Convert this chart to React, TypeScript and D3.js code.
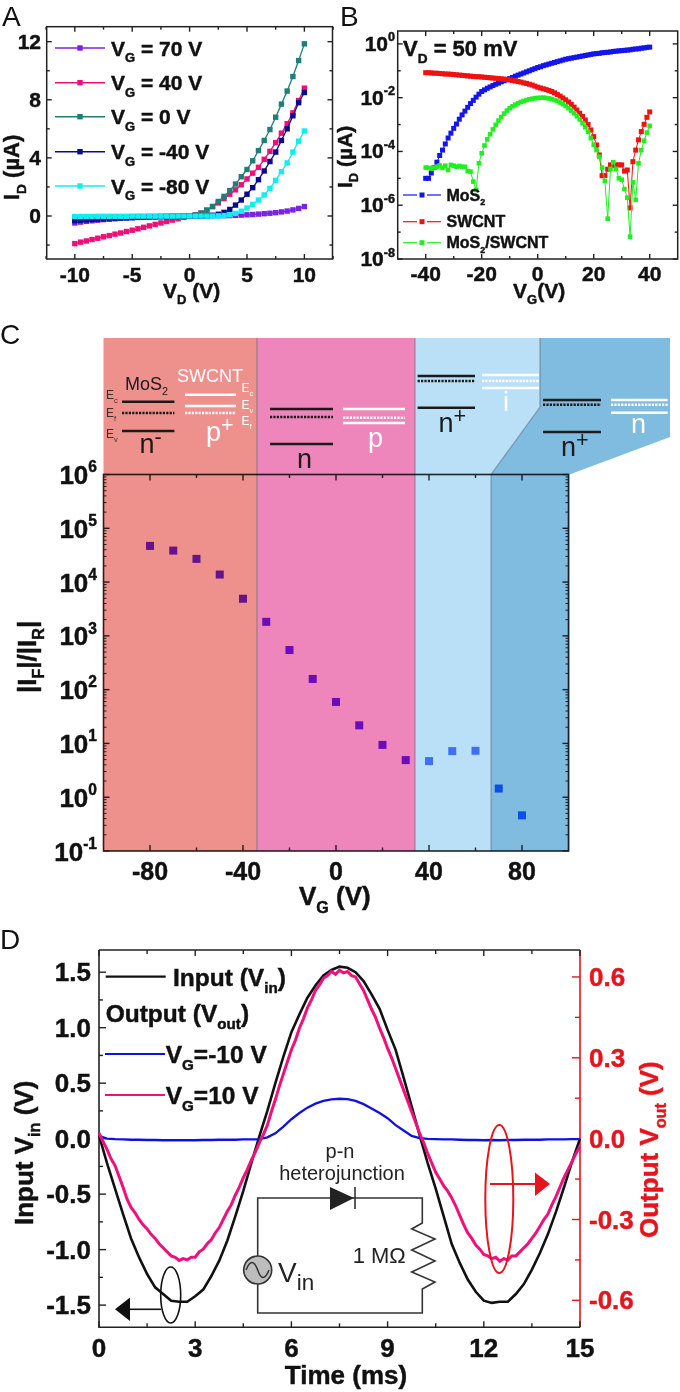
import React from "react";
import * as d3 from "d3";

const FONT = "'Liberation Sans', Arial, sans-serif";

// Panel A
const vdValues = [-10,-9.5,-9,-8.5,-8,-7.5,-7,-6.5,-6,-5.5,-5,-4.5,-4,-3.5,-3,-2.5,-2,-1.5,-1,-0.5,0,0.5,1,1.5,2,2.5,3,3.5,4,4.5,5,5.5,6,6.5,7,7.5,8,8.5,9,9.5,10];
const idVg70 = [-0.48,-0.42,-0.37,-0.33,-0.29,-0.25,-0.22,-0.19,-0.16,-0.14,-0.12,-0.1,-0.08,-0.06,-0.05,-0.04,-0.03,-0.02,-0.01,-0.01,0,0,0.01,0.01,0.01,0.02,0.02,0.03,0.04,0.06,0.08,0.1,0.13,0.16,0.19,0.23,0.28,0.34,0.42,0.52,0.65];
const idVg40 = [-1.9,-1.8,-1.72,-1.62,-1.53,-1.43,-1.35,-1.25,-1.17,-1.07,-0.98,-0.88,-0.78,-0.68,-0.58,-0.48,-0.38,-0.28,-0.19,-0.09,0,0.08,0.2,0.4,0.65,0.9,1.2,1.5,1.8,2.15,2.55,2.95,3.35,3.9,4.45,5.05,5.7,6.35,7.1,7.95,8.8];
const idVg0 = [-0.1,-0.09,-0.09,-0.08,-0.08,-0.07,-0.07,-0.06,-0.06,-0.05,-0.05,-0.04,-0.04,-0.03,-0.03,-0.02,-0.02,-0.01,-0.01,0,0,0.08,0.2,0.4,0.65,1,1.35,1.75,2.2,2.7,3.2,3.8,4.5,5.2,5.95,6.8,7.7,8.6,9.6,10.7,11.85];
const idVgM40 = [-0.32,-0.29,-0.26,-0.24,-0.22,-0.2,-0.18,-0.16,-0.14,-0.12,-0.11,-0.09,-0.08,-0.07,-0.06,-0.05,-0.04,-0.03,-0.02,-0.01,0,0,0,0.02,0.05,0.12,0.25,0.45,0.75,1.1,1.5,1.95,2.5,3.1,3.75,4.4,5.2,6,6.9,7.8,8.5];
const idVgM80 = [-0.03,-0.03,-0.03,-0.03,-0.02,-0.02,-0.02,-0.02,-0.02,-0.02,-0.01,-0.01,-0.01,-0.01,-0.01,-0.01,-0.01,-0.01,0,0,0,0,0,0,0,0.01,0.03,0.08,0.18,0.33,0.55,0.8,1.1,1.45,1.9,2.45,3.05,3.65,4.4,5.15,5.85];
const seriesALabels = ["70 V", "40 V", "0 V", "-40 V", "-80 V"];
const seriesAValues = [idVg70, idVg40, idVg0, idVgM40, idVgM80];
const seriesAColors = ["#7a22e8", "#ee0f78", "#1f7f78", "#0a0a8c", "#12eef0"];
const aXTicks = [-10,-5,0,5,10];
const aXMinor = [-12.5,-7.5,-2.5,2.5,7.5,12.5];
const aYTicks = [0,4,8,12];
const aYMinor = [-2,2,6,10];

// Panel B (log10 of I_D)
const vgB = d3.range(-40, 41);
const logMos2 = [-5,-5,-4.8,-4.6,-4.4,-4.15,-3.95,-3.72,-3.5,-3.32,-3.14,-2.98,-2.8,-2.64,-2.5,-2.36,-2.22,-2.1,-1.98,-1.87,-1.77,-1.71,-1.65,-1.6,-1.55,-1.5,-1.46,-1.41,-1.37,-1.33,-1.29,-1.25,-1.2,-1.16,-1.12,-1.08,-1.04,-1,-0.96,-0.92,-0.88,-0.85,-0.81,-0.78,-0.75,-0.72,-0.69,-0.66,-0.63,-0.6,-0.57,-0.55,-0.53,-0.51,-0.49,-0.47,-0.45,-0.43,-0.41,-0.39,-0.37,-0.36,-0.35,-0.33,-0.32,-0.31,-0.3,-0.28,-0.27,-0.26,-0.25,-0.24,-0.23,-0.22,-0.2,-0.19,-0.18,-0.16,-0.15,-0.13,-0.12];
const logSwcnt = [-1.07,-1.07,-1.08,-1.09,-1.09,-1.1,-1.11,-1.12,-1.12,-1.13,-1.14,-1.15,-1.16,-1.17,-1.18,-1.19,-1.2,-1.21,-1.22,-1.22,-1.23,-1.24,-1.25,-1.26,-1.27,-1.28,-1.29,-1.3,-1.31,-1.32,-1.34,-1.36,-1.38,-1.4,-1.42,-1.45,-1.47,-1.5,-1.53,-1.57,-1.61,-1.64,-1.67,-1.7,-1.73,-1.77,-1.82,-1.88,-1.94,-2.01,-2.08,-2.16,-2.25,-2.35,-2.46,-2.58,-2.7,-2.83,-3,-3.2,-3.45,-3.76,-4.13,-4.9,-4.9,-4.66,-4.5,-4.53,-4.5,-4.5,-4.5,-4.73,-4.69,-6.1,-4.38,-3.95,-3.57,-3.26,-2.99,-2.73,-2.53];
const logBlend = [-4.6,-4.61,-4.64,-4.6,-4.57,-4.52,-4.61,-4.53,-4.69,-4.5,-4.53,-4.57,-4.54,-4.57,-4.57,-4.73,-4.75,-5.12,-5.43,-4.44,-4.07,-3.78,-3.55,-3.36,-3.18,-3.01,-2.85,-2.72,-2.59,-2.48,-2.39,-2.32,-2.26,-2.21,-2.16,-2.12,-2.09,-2.06,-2.04,-2.02,-2.01,-2,-2,-2.01,-2.03,-2.05,-2.09,-2.13,-2.18,-2.24,-2.31,-2.39,-2.48,-2.58,-2.69,-2.81,-2.95,-3.1,-3.27,-3.5,-3.75,-3.95,-4.2,-4.6,-5.1,-6.5,-4.65,-4.4,-4.65,-5,-5.05,-5.4,-5.72,-7.17,-5.15,-5.8,-4.44,-3.95,-3.6,-3.3,-3.05];
const seriesBLabels = ["MoS", "SWCNT", "MoS"];
const seriesBColors = ["#1414ee", "#ee1212", "#22ee22"];
const bXTicks = [-40,-20,0,20,40];
const bXMinor = [-30,-10,10,30];
const bYExp = [0,-2,-4,-6,-8];
const bYMinorExp = [-1,-3,-5,-7];

// Panel C
const vgC = [-80,-70,-60,-50,-40,-30,-20,-10,0,10,20,30,40,50,60,70,80];
const ratioC = [47000,38500,27000,13800,4900,1820,545,158,59,21.7,9.4,4.9,4.7,7.2,7.3,1.45,0.46];
const ratioColors = ["#66128c","#66128c","#66128c","#66128c","#66128c","#6a0cba","#6a0cba","#6a0cba","#6a0cba","#6a0cba","#6a0cba","#6a0cba","#3f70f4","#3f70f4","#3f70f4","#0b50e0","#0b50e0"];
const cBounds = [-100,-34,34,66.7,100];
const cBandColors = ["#ee918c","#ee85bb","#bae0f7","#7fbce0"];
const cXTicks = [-80,-40,0,40,80];
const cXMinor = [-60,-20,20,60];
const cYExp = [-1,0,1,2,3,4,5,6];

// Panel D
const timeStep = 0.25;
const inputV = [0.03,-0.22,-0.45,-0.68,-0.9,-1.07,-1.22,-1.34,-1.4,-1.46,-1.47,-1.47,-1.42,-1.36,-1.24,-1.1,-0.92,-0.7,-0.47,-0.22,0.02,0.25,0.5,0.74,0.96,1.12,1.27,1.38,1.47,1.52,1.55,1.54,1.5,1.42,1.3,1.17,0.98,0.8,0.55,0.29,0.03,-0.22,-0.45,-0.7,-0.95,-1.12,-1.27,-1.38,-1.46,-1.48,-1.47,-1.47,-1.4,-1.31,-1.18,-1.03,-0.86,-0.66,-0.44,-0.21,0];
const blueV = [0.01,0,-0.002,-0.003,-0.004,-0.004,-0.005,-0.005,-0.006,-0.006,-0.006,-0.006,-0.006,-0.005,-0.005,-0.004,-0.004,-0.004,-0.003,-0.003,-0.002,0.005,0.02,0.045,0.072,0.095,0.115,0.13,0.14,0.146,0.148,0.147,0.14,0.128,0.112,0.095,0.076,0.05,0.03,0.01,0.002,-0.001,-0.002,-0.003,-0.003,-0.004,-0.005,-0.005,-0.006,-0.005,-0.006,-0.005,-0.005,-0.004,-0.004,-0.004,-0.003,-0.003,-0.003,-0.002,-0.002];
const pinkStep = 0.125;
const pinkV = [0.02,-0.01,-0.04,-0.075,-0.1,-0.14,-0.18,-0.225,-0.255,-0.275,-0.3,-0.32,-0.335,-0.355,-0.37,-0.39,-0.405,-0.42,-0.435,-0.44,-0.452,-0.445,-0.45,-0.44,-0.44,-0.42,-0.41,-0.39,-0.375,-0.35,-0.33,-0.3,-0.27,-0.245,-0.21,-0.18,-0.145,-0.115,-0.08,-0.05,-0.015,0.015,0.05,0.1,0.145,0.195,0.24,0.285,0.33,0.365,0.41,0.445,0.485,0.515,0.55,0.57,0.595,0.605,0.62,0.61,0.625,0.615,0.62,0.605,0.6,0.575,0.55,0.515,0.48,0.45,0.41,0.375,0.335,0.3,0.26,0.22,0.18,0.14,0.1,0.06,0.02,-0.015,-0.055,-0.09,-0.125,-0.15,-0.175,-0.195,-0.22,-0.25,-0.285,-0.32,-0.35,-0.37,-0.395,-0.41,-0.43,-0.435,-0.445,-0.44,-0.455,-0.445,-0.45,-0.435,-0.435,-0.42,-0.405,-0.39,-0.37,-0.35,-0.325,-0.3,-0.28,-0.245,-0.215,-0.18,-0.145,-0.115,-0.085,-0.055,-0.03];
const dXTicks = [0,3,6,9,12,15];
const dXMinor = [1.5,4.5,7.5,10.5,13.5];
const dLeftTicks = [-1.5,-1,-0.5,0,0.5,1,1.5];
const dLeftMinor = [-1.25,-0.75,-0.25,0.25,0.75,1.25];
const dRightTicks = [-0.6,-0.3,0,0.3,0.6];
const dRightMinor = [-0.45,-0.15,0.15,0.45];

const INK = "#222";
const RED = "#e6141c";

type Part = [string, ("sub" | "sup")?, number?];
function Rich({ x, y, parts, size, weight = "bold", fill = "#111", anchor = "start", rotate, sub = 0.62, shift = 0.3, supShift = 0.42 }: any) {
  const tf = rotate ? `rotate(${rotate} ${x} ${y})` : undefined;
  let level = 0;
  const spans = (parts as Part[]).map((p, i) => {
    const target = p[1] === "sub" ? size * shift : p[1] === "sup" ? -size * supShift : 0;
    const dy = target - level;
    level = target;
    return (
      <tspan key={i} dy={dy} fontSize={p[1] ? size * sub : size}>{p[0]}</tspan>
    );
  });
  return (
    <text x={x} y={y} transform={tf} fontFamily={FONT} fontWeight={weight} fill={fill} textAnchor={anchor} fontSize={size} style={{ whiteSpace: "pre" }}>{spans}</text>
  );
}

function Ticks({ scale, values, side, len, at, stroke = INK, width = 1.4 }: any) {
  return (
    <g stroke={stroke} strokeWidth={width}>
      {values.map((v: number, i: number) => {
        const p = scale(v);
        if (side === "h-down") return <line key={i} x1={p} x2={p} y1={at} y2={at + len} />;
        if (side === "h-up") return <line key={i} x1={p} x2={p} y1={at} y2={at - len} />;
        if (side === "v-right") return <line key={i} y1={p} y2={p} x1={at} x2={at + len} />;
        return <line key={i} y1={p} y2={p} x1={at} x2={at - len} />;
      })}
    </g>
  );
}

function PanelA() {
  const L = 46.7, R = 332.5, T = 26.7, B = 259;
  const x = d3.scaleLinear().domain([-12.45, 12.45]).range([L, R]);
  const y = d3.scaleLinear().domain([-2.96, 13.03]).range([B, T]);
  const legendY = [48, 82.7, 116.7, 151.7, 186];
  return (
    <g>
      <text x={2} y={25.5} fontFamily={FONT} fontSize={28} fill="#111">A</text>
      <rect x={L} y={T} width={R - L} height={B - T} fill="none" stroke={INK} strokeWidth={1.5} />
      <Ticks scale={x} values={aXTicks} side="h-up" len={5} at={B} />
      <Ticks scale={x} values={aXMinor} side="h-up" len={3} at={B} />
      <Ticks scale={x} values={aXTicks} side="h-down" len={5} at={T} />
      <Ticks scale={x} values={aXMinor} side="h-down" len={3} at={T} />
      <Ticks scale={y} values={aYTicks} side="v-right" len={5} at={L} />
      <Ticks scale={y} values={aYMinor} side="v-right" len={3} at={L} />
      <Ticks scale={y} values={aYTicks} side="v-left" len={5} at={R} />
      <Ticks scale={y} values={aYMinor} side="v-left" len={3} at={R} />
      {aXTicks.map(v => <text key={v} x={x(v)} y={281.5} textAnchor="middle" fontFamily={FONT} fontWeight="bold" fontSize={21} fill="#111">{v}</text>)}
      {aYTicks.map(v => <text key={v} x={41} y={y(v) + 7.5} textAnchor="end" fontFamily={FONT} fontWeight="bold" fontSize={21} fill="#111">{v}</text>)}
      {seriesAValues.map((vals, s) => {
        const line = d3.line<number>().x((_, i) => x(vdValues[i])).y(d => y(d));
        return (
          <g key={s} fill={seriesAColors[s]}>
            <path d={line(vals) || ""} fill="none" stroke={seriesAColors[s]} strokeWidth={1.3} />
            {vals.map((d, i) => <rect key={i} x={x(vdValues[i]) - 2.7} y={y(d) - 2.7} width={5.4} height={5.4} />)}
          </g>
        );
      })}
      {seriesALabels.map((t, s) => (
        <g key={t}>
          <line x1={55} x2={105} y1={legendY[s]} y2={legendY[s]} stroke={seriesAColors[s]} strokeWidth={1.5} />
          <rect x={77.3} y={legendY[s] - 2.7} width={5.4} height={5.4} fill={seriesAColors[s]} />
          <Rich x={111} y={legendY[s] + 7.5} size={21} parts={[["V"], ["G", "sub"], [" = " + t]]} />
        </g>
      ))}
      <Rich x={19} y={200} rotate={-90} size={22} parts={[["I"], ["D", "sub"], [" (µA)"]]} />
      <Rich x={163} y={298} size={21} parts={[["V"], ["D", "sub"], [" (V)"]]} />
    </g>
  );
}

function PanelB() {
  const L = 397.7, R = 677.7, T = 31, B = 259;
  const x = d3.scaleLinear().domain([-50, 50]).range([L, R]);
  const y = d3.scaleLog().domain([1e-8, Math.pow(10, 0.48)]).range([B, T]);
  const series = [logMos2, logSwcnt, logBlend];
  const legendY = [195, 221.7, 242.7];
  const pos = bYExp.map(e => Math.pow(10, e));
  const minor = bYMinorExp.map(e => Math.pow(10, e));
  return (
    <g>
      <text x={340} y={25.5} fontFamily={FONT} fontSize={28} fill="#111">B</text>
      <rect x={L} y={T} width={R - L} height={B - T} fill="none" stroke={INK} strokeWidth={1.5} />
      <Ticks scale={x} values={bXTicks} side="h-up" len={5} at={B} />
      <Ticks scale={x} values={bXMinor} side="h-up" len={3} at={B} />
      <Ticks scale={x} values={bXTicks} side="h-down" len={5} at={T} />
      <Ticks scale={x} values={bXMinor} side="h-down" len={3} at={T} />
      <Ticks scale={y} values={pos} side="v-right" len={5} at={L} />
      <Ticks scale={y} values={minor} side="v-right" len={3} at={L} />
      <Ticks scale={y} values={pos} side="v-left" len={5} at={R} />
      <Ticks scale={y} values={minor} side="v-left" len={3} at={R} />
      <Rich x={352} y={188} rotate={-90} size={21} parts={[["I"], ["D", "sub"], [" (µA)"]]} />
      {bXTicks.map(v => <text key={v} x={x(v)} y={280.5} textAnchor="middle" fontFamily={FONT} fontWeight="bold" fontSize={21} fill="#111">{v}</text>)}
      {bYExp.map(e => (
        <Rich key={e} x={395} y={y(Math.pow(10, e)) + 7} anchor="end" size={21} sub={0.6} supShift={0.45} parts={[["10"], [String(e), "sup"]]} />
      ))}
      {series.map((vals, s) => {
        const line = d3.line<number>().x((_, i) => x(vgB[i])).y(d => y(Math.pow(10, d)));
        const m = s === 2 ? 4.6 : 5;
        return (
          <g key={s} fill={seriesBColors[s]}>
            <path d={line(vals) || ""} fill="none" stroke={seriesBColors[s]} strokeWidth={1} />
            {vals.map((d, i) => <rect key={i} x={x(vgB[i]) - m / 2} y={y(Math.pow(10, d)) - m / 2} width={m} height={m} />)}
          </g>
        );
      })}
      {seriesBLabels.map((t, s) => (
        <g key={s}>
          <line x1={403} x2={417} y1={legendY[s]} y2={legendY[s]} stroke={seriesBColors[s]} strokeWidth={1.2} />
          <line x1={427} x2={441} y1={legendY[s]} y2={legendY[s]} stroke={seriesBColors[s]} strokeWidth={1.2} />
          <rect x={419.5} y={legendY[s] - 2.5} width={5} height={5} fill={seriesBColors[s]} />
          <Rich x={446.5} y={legendY[s] + 5.5} size={16} sub={0.55} parts={s === 0 ? [[t], ["2", "sub"]] : s === 1 ? [[t]] : [[t], ["2", "sub"], ["/SWCNT"]]} />
        </g>
      ))}
      <Rich x={403} y={56} size={22} parts={[["V"], ["D", "sub"], [" = 50 mV"]]} />
      <Rich x={513} y={298} size={21} parts={[["V"], ["G", "sub"], ["(V)"]]} />
    </g>
  );
}

function Band({ x1, x2, ys, dotted, color }: any) {
  return (
    <g stroke={color}>
      {ys.map((yy: number, i: number) => (
        <line key={i} x1={x1} x2={x2} y1={yy} y2={yy} strokeWidth={2.4} strokeDasharray={i === dotted ? "2.2 1.2" : undefined} />
      ))}
    </g>
  );
}

function PanelC() {
  const L = 103.5, R = 568.5, T = 474.5, B = 851;
  const x = d3.scaleLinear().domain([-100, 100]).range([L, R]);
  const y = d3.scaleLog().domain([0.1, 1e6]).range([B, T]);
  const top = 338;
  const b = cBounds.map(v => x(v));
  const major = cYExp.map(e => Math.pow(10, e));
  const minor: number[] = [];
  cYExp.slice(0, -1).forEach(e => [2,3,4,5,6,7,8,9].forEach(m => minor.push(m * Math.pow(10, e))));
  const polys = [
    `${b[0]},${top} ${b[1]},${top} ${b[1]},${B} ${b[0]},${B}`,
    `${b[1]},${top} ${b[2]},${top} ${b[2]},${B} ${b[1]},${B}`,
    `${b[2]},${top} 540,${top} 540,407 ${b[3]},${T} ${b[3]},${B} ${b[2]},${B}`,
    `540,${top} 670,${top} 670,437 ${R + 1},${T} ${R + 1},${B} ${b[3]},${B} ${b[3]},${T} 540,407`,
  ];
  return (
    <g>
      <text x={0} y={344} fontFamily={FONT} fontSize={28} fill="#111">C</text>
      {polys.map((p, i) => <polygon key={i} points={p} fill={cBandColors[i]} />)}
      <g stroke="#5b6670" strokeOpacity={0.55} strokeWidth={1.2} fill="none">
        <line x1={b[1]} x2={b[1]} y1={top} y2={B} />
        <line x1={b[2]} x2={b[2]} y1={top} y2={B} />
        <polyline points={`540,${top} 540,407 ${b[3]},${T} ${b[3]},${B}`} />
      </g>
      <Band x1={122} x2={174.4} ys={[401.7, 413, 431]} dotted={1} color="#1a1a1a" />
      <Band x1={185} x2={236} ys={[394.7, 406, 413]} dotted={2} color="#fff" />
      <Band x1={270} x2={333} ys={[409, 417, 444]} dotted={1} color="#1a1a1a" />
      <Band x1={343} x2={405} ys={[409, 417.7, 423]} dotted={1} color="#fff" />
      <Band x1={417.6} x2={475} ys={[376, 381, 407.7]} dotted={1} color="#1a1a1a" />
      <Band x1={482} x2={539} ys={[375, 381, 388]} dotted={1} color="#fff" />
      <Band x1={543} x2={601} ys={[400, 404.7, 432]} dotted={1} color="#1a1a1a" />
      <Band x1={611} x2={667.7} ys={[400, 404.7, 412.7]} dotted={1} color="#fff" />
      <Rich x={125} y={390} size={18} weight="normal" fill="#1a1a1a" sub={0.6} parts={[["MoS"], ["2", "sub"]]} />
      <text x={177} y={382} fontFamily={FONT} fontSize={18} fill="#fff">SWCNT</text>
      <Rich x={106} y={399} size={12} weight="normal" fill="#333" parts={[["E"], ["c", "sub"]]} />
      <Rich x={106} y={417} size={12} weight="normal" fill="#333" parts={[["E"], ["f", "sub"]]} />
      <Rich x={106} y={438} size={12} weight="normal" fill="#333" parts={[["E"], ["v", "sub"]]} />
      <Rich x={241.5} y={392} size={12} weight="normal" fill="#fff" parts={[["E"], ["c", "sub"]]} />
      <Rich x={241.5} y={409} size={12} weight="normal" fill="#fff" parts={[["E"], ["v", "sub"]]} />
      <Rich x={241.5} y={425} size={12} weight="normal" fill="#fff" parts={[["E"], ["f", "sub"]]} />
      <Rich x={139.5} y={453} size={27} weight="normal" fill="#1a1a1a" sub={0.8} supShift={0.35} parts={[["n"], ["-", "sup"]]} />
      <Rich x={206} y={441} size={27} weight="normal" fill="#fff" sub={0.8} supShift={0.35} parts={[["p"], ["+", "sup"]]} />
      <text x={297} y={468} fontFamily={FONT} fontSize={27} fill="#1a1a1a">n</text>
      <text x={368} y={447} fontFamily={FONT} fontSize={27} fill="#fff">p</text>
      <Rich x={438.5} y={432} size={27} weight="normal" fill="#1a1a1a" sub={0.8} supShift={0.35} parts={[["n"], ["+", "sup"]]} />
      <text x={503} y={411} fontFamily={FONT} fontSize={27} fill="#fff">i</text>
      <Rich x={561} y={456} size={27} weight="normal" fill="#1a1a1a" sub={0.8} supShift={0.35} parts={[["n"], ["+", "sup"]]} />
      <text x={631} y={433} fontFamily={FONT} fontSize={27} fill="#fff">n</text>

      <g style={{ mixBlendMode: "multiply" }}>
        <rect x={L} y={T} width={R - L} height={B - T} fill="none" stroke="#2a2a2a" strokeWidth={1.6} />
        <Ticks scale={x} values={cXTicks} side="h-up" len={6} at={B} stroke="#2a2a2a" />
        <Ticks scale={x} values={cXMinor} side="h-up" len={3.5} at={B} stroke="#2a2a2a" />
        <Ticks scale={x} values={cXTicks} side="h-down" len={6} at={T} stroke="#2a2a2a" />
        <Ticks scale={x} values={cXMinor} side="h-down" len={3.5} at={T} stroke="#2a2a2a" />
        <Ticks scale={y} values={major} side="v-right" len={6} at={L} stroke="#2a2a2a" />
        <Ticks scale={y} values={minor} side="v-right" len={3} at={L} stroke="#2a2a2a" width={1} />
        <Ticks scale={y} values={major} side="v-left" len={6} at={R} stroke="#2a2a2a" />
        <Ticks scale={y} values={minor} side="v-left" len={3} at={R} stroke="#2a2a2a" width={1} />
      </g>
      {vgC.map((v, i) => (
        <rect key={v} x={x(v) - 4} y={y(ratioC[i]) - 4} width={8} height={8} fill={ratioColors[i]} />
      ))}
      {cYExp.map(e => (
        <Rich key={e} x={97} y={y(Math.pow(10, e)) + 9.5} anchor="end" size={26} sub={0.6} supShift={0.45} parts={[["10"], [String(e), "sup"]]} />
      ))}
      {cXTicks.map(v => <text key={v} x={x(v)} y={880} textAnchor="middle" fontFamily={FONT} fontWeight="bold" fontSize={25} fill="#111">{v}</text>)}
      <Rich x={299} y={905} size={26} parts={[["V"], ["G", "sub"], [" (V)"]]} />
      <Rich x={36} y={693} rotate={-90} size={26} parts={[["|I"], ["F", "sub"], ["|/|I"], ["R", "sub"], ["|"]]} />
    </g>
  );
}

function PanelD() {
  const L = 99, R = 580, T = 950, B = 1327.3;
  const x = d3.scaleLinear().domain([0, 15]).range([L, R]);
  const yL = d3.scaleLinear().domain([-1.7, 1.7]).range([B, T]);
  const yR = d3.scaleLinear().domain([-0.7, 0.7]).range([B, T]);
  const lineIn = d3.line<number>().x((_, i) => x(i * timeStep)).y(d => yL(d));
  const lineBlue = d3.line<number>().x((_, i) => x(i * timeStep)).y(d => yR(d));
  const linePink = d3.line<number>().x((_, i) => x(i * pinkStep)).y(d => yR(d));
  return (
    <g>
      <text x={0} y={949} fontFamily={FONT} fontSize={28} fill="#111">D</text>
      <path d={`M${L},${T}H${R}M${L},${T}V${B}H${R}`} fill="none" stroke={INK} strokeWidth={1.6} />
      <line x1={R} x2={R} y1={T} y2={B} stroke={RED} strokeWidth={1.6} />
      <Ticks scale={x} values={dXTicks} side="h-up" len={6} at={B} />
      <Ticks scale={x} values={dXMinor} side="h-up" len={4} at={B} />
      <Ticks scale={x} values={dXTicks} side="h-down" len={6} at={T} />
      <Ticks scale={x} values={dXMinor} side="h-down" len={4} at={T} />
      <Ticks scale={yL} values={dLeftTicks} side="v-right" len={7} at={L} />
      <Ticks scale={yL} values={dLeftMinor} side="v-right" len={4} at={L} />
      <Ticks scale={yR} values={dRightTicks} side="v-left" len={8} at={R} stroke={RED} />
      <Ticks scale={yR} values={dRightMinor} side="v-left" len={5} at={R} stroke={RED} />
      {dXTicks.map(v => <text key={v} x={x(v)} y={1357} textAnchor="middle" fontFamily={FONT} fontWeight="bold" fontSize={26} fill="#111">{v}</text>)}
      {dLeftTicks.map(v => <text key={v} x={91} y={yL(v) + 9} textAnchor="end" fontFamily={FONT} fontWeight="bold" fontSize={26} fill="#111">{v.toFixed(1)}</text>)}
      {dRightTicks.map(v => <text key={v} x={589} y={yR(v) + 9} fontFamily={FONT} fontWeight="bold" fontSize={26} fill={RED}>{v.toFixed(1)}</text>)}
      <path d={lineIn(inputV) || ""} fill="none" stroke="#111" strokeWidth={2.6} />
      <path d={lineBlue(blueV) || ""} fill="none" stroke="#1010e0" strokeWidth={2.3} />
      <path d={linePink(pinkV) || ""} fill="none" stroke="#f0107c" strokeWidth={3} />
      <line x1={105.7} x2={165.7} y1={976.7} y2={976.7} stroke="#111" strokeWidth={2.2} />
      <Rich x={173} y={986} size={24.5} parts={[["Input (V"], ["in", "sub"], [")"]]} />
      <Rich x={105.7} y={1021.7} size={24.5} parts={[["Output (V"], ["out", "sub"], [")"]]} />
      <line x1={105} x2={165} y1={1054} y2={1054} stroke="#1010e0" strokeWidth={2.2} />
      <Rich x={165.7} y={1063} size={24.5} parts={[["V"], ["G", "sub"], ["=-10 V"]]} />
      <line x1={105} x2={165} y1={1095} y2={1095} stroke="#f0107c" strokeWidth={2.2} />
      <Rich x={165.7} y={1104} size={24.5} parts={[["V"], ["G", "sub"], ["=10 V"]]} />
      <Rich x={32.5} y={1225} rotate={-90} size={26} parts={[["Input V"], ["in", "sub"], [" (V)"]]} />
      <Rich x={658} y={1238} rotate={-90} size={26} fill={RED} parts={[["Output V"], ["out", "sub"], [" (V)"]]} />
      <text x={346} y={1384} textAnchor="middle" fontFamily={FONT} fontWeight="bold" fontSize={26} fill="#111">Time (ms)</text>

      <g fill="none" stroke="#333" strokeWidth={1.6}>
        <path d="M257.7,1256V1198H354M354,1198H422.3V1223L411.7,1229L435,1239L411.7,1250L435,1261L411.7,1272L435,1282L422.3,1289V1313H257.7V1284" />
        <line x1={355} x2={355} y1={1187} y2={1209} />
        <circle cx={257.7} cy={1270} r={14} fill="#bdbdbd" />
        <path d="M246,1270C250,1260 254,1260 257.7,1270C261,1280 265,1280 269,1270" strokeWidth={1.5} />
      </g>
      <polygon points="330,1187 354,1198 330,1210" fill="#222" />
      <Rich x={278} y={1281.7} size={28} weight="normal" fill="#222" sub={0.8} shift={0.28} parts={[["V"], ["in", "sub"]]} />
      <text x={340} y={1158} textAnchor="middle" fontFamily={FONT} fontSize={20} fill="#222">p-n</text>
      <text x={342} y={1180} textAnchor="middle" fontFamily={FONT} fontSize={20} fill="#222">heterojunction</text>
      <text x={352.7} y={1263} fontFamily={FONT} fontSize={22} fill="#222">1 MΩ</text>

      <ellipse cx={170.7} cy={1295} rx={10} ry={28} fill="none" stroke="#111" strokeWidth={1.6} />
      <line x1={161} x2={130} y1={1309.3} y2={1309.3} stroke="#111" strokeWidth={1.6} />
      <polygon points="115,1309.3 130,1297.5 130,1321" fill="#111" />
      <ellipse cx={499.3} cy={1199} rx={14} ry={74} fill="none" stroke={RED} strokeWidth={2} />
      <line x1={490} x2={535} y1={1184} y2={1184} stroke={RED} strokeWidth={2} />
      <polygon points="550,1184 535,1172.5 535,1196" fill={RED} />
    </g>
  );
}

export default function App() {
  return (
    <svg width={680} height={1392} viewBox="0 0 680 1392" style={{ position: "absolute", left: 0, top: 0, background: "#fff" }}>
      <style>{`text[font-weight="bold"]{stroke:#111;stroke-width:.45px}text[font-weight="bold"][fill="${RED}"]{stroke:${RED}}`}</style>
      <PanelA />
      <PanelB />
      <PanelC />
      <PanelD />
    </svg>
  );
}
